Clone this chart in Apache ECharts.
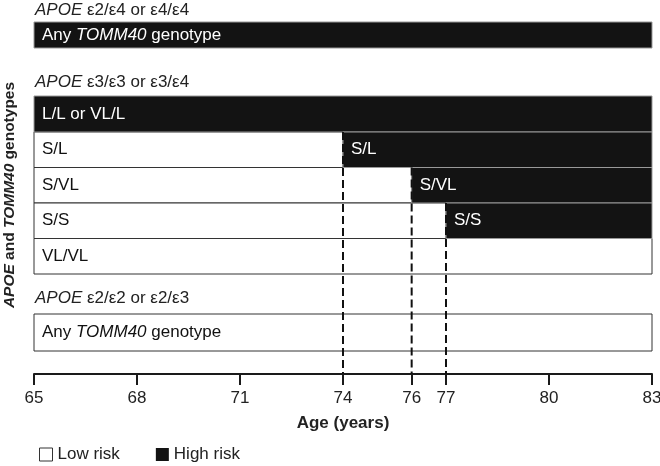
<!DOCTYPE html>
<html><head><meta charset="utf-8">
<script src="https://cdn.jsdelivr.net/npm/echarts@6/dist/echarts.min.js"></script>
<style>html,body{margin:0;padding:0;background:#fff}#c{width:660px;height:466px}</style>
</head><body><div id="c"></div>
<script>
// ---- data ----
const groupHeaders = ['APOE ε2/ε4 or ε4/ε4', 'APOE ε3/ε3 or ε3/ε4', 'APOE ε2/ε2 or ε2/ε3'];
const rowLabels = ['Any TOMM40 genotype', 'L/L or VL/L', 'S/L', 'S/VL', 'S/S', 'VL/VL', 'Any TOMM40 genotype'];
const highRiskFrom = [65, 65, 74, 76, 77, null, null]; // age from which risk is high (null = never)
const ageMin = 65, ageMax = 83;
const ageTicks = [65, 68, 71, 74, 76, 77, 80, 83];
const legendNames = ['Low risk', 'High risk'];

// ---- layout (vertical layout units of the hidden y axis, top-down) ----
const PLOT_H = 374;
const rowBox = [[22,48],[96,132],[132,167.5],[167.5,203],[203,238.5],[238.5,274],[314,351]];
const headerY = [10, 82, 298];

const FONT = '"Liberation Sans", Arial, Helvetica, sans-serif';
const FS = 17;
const BLACK = '#131313';
function richText(t){ return t.replace(/(APOE|TOMM40)/g, '{i|$1}'); }
function textEl(x, y, t, color){
  return {type:'text', style:{x:x, y:y, text:richText(t), fill:color, fontSize:FS, fontFamily:FONT,
    align:'left', verticalAlign:'middle',
    rich:{i:{fontStyle:'italic', fontSize:FS, fontFamily:FONT, fill:color}}}};
}

const lowData = [], highData = [];
rowLabels.forEach((lab, i) => {
  const h = highRiskFrom[i];
  if (h === null) lowData.push([ageMin, ageMax, i]);
  else {
    if (h > ageMin) lowData.push([ageMin, h, i]);
    highData.push([h, ageMax, i]);
  }
});
const thresholdData = [];
highRiskFrom.forEach((h, i) => { if (h !== null && h > ageMin && h < ageMax) thresholdData.push([h, i]); });

function segRender(fill, stroke, txt){
  return function(params, api){
    const s = api.value(0), e = api.value(1), r = api.value(2);
    const p0 = api.coord([s, rowBox[r][0]]);
    const p1 = api.coord([e, rowBox[r][1]]);
    return {type:'group', children:[
      {type:'rect', shape:{x:p0[0], y:p0[1], width:p1[0]-p0[0], height:p1[1]-p0[1]},
       style:{fill:fill, stroke:stroke, lineWidth:1}},
      textEl(p0[0]+8, (p0[1]+p1[1])/2, rowLabels[r], txt)
    ]};
  };
}

const chart = echarts.init(document.getElementById('c'), null, {renderer:'canvas'});
chart.setOption({
  animation:false,
  backgroundColor:'#fff',
  textStyle:{fontFamily:FONT},
  grid:{left:34, right:8, top:0, height:PLOT_H, containLabel:false, outerBoundsMode:'none'},
  legend:{left:34, top:441, itemWidth:13, itemHeight:13, itemGap:36,
    textStyle:{fontSize:FS, color:'#222', fontFamily:FONT},
    data:[{name:legendNames[0], icon:'rect', itemStyle:{color:'#fff', borderColor:'#333', borderWidth:1}},
          {name:legendNames[1], icon:'rect', itemStyle:{color:BLACK}}]},
  xAxis:{type:'value', min:ageMin, max:ageMax, position:'bottom',
    name:'Age (years)', nameLocation:'middle', nameGap:41,
    nameTextStyle:{fontSize:FS, fontWeight:'bold', color:'#222', fontFamily:FONT},
    axisLine:{onZero:false, lineStyle:{color:'#1a1a1a', width:2}},
    axisTick:{customValues:ageTicks, length:11, lineStyle:{color:'#1a1a1a', width:2}},
    axisLabel:{customValues:ageTicks, fontSize:FS, color:'#222', margin:16, fontFamily:FONT},
    splitLine:{show:false}},
  yAxis:{type:'value', min:0, max:PLOT_H, inverse:true,
    name:'{bi|APOE}{b| and }{bi|TOMM40}{b| genotypes}', nameLocation:'middle', nameGap:16, nameRotate:90,
    nameTextStyle:{padding:[0,16,0,0],
      rich:{b:{fontSize:15.5, fontWeight:'bold', color:'#222', fontFamily:FONT},
            bi:{fontSize:15.5, fontWeight:'bold', fontStyle:'italic', color:'#222', fontFamily:FONT}}},
    axisLine:{show:false}, axisTick:{show:false}, axisLabel:{show:false}, splitLine:{show:false}},
  series:[
    {name:legendNames[0], type:'custom', z:2, itemStyle:{color:'#fff', borderColor:'#333'},
     renderItem:segRender('#fff', '#333', '#111'), data:lowData},
    {name:legendNames[1], type:'custom', z:2, itemStyle:{color:BLACK},
     renderItem:segRender(BLACK, '#999', '#fff'), data:highData},
    {name:'thresholds', type:'custom', z:3,
     renderItem:function(params, api){
       const h = api.value(0), r = api.value(1);
       const a = api.coord([h, rowBox[r][0]]), b = api.coord([h, PLOT_H]);
       return {type:'line', shape:{x1:a[0], y1:a[1], x2:b[0], y2:b[1]},
         style:{stroke:'#111', lineWidth:2, lineDash:[8,4]}};
     }, data:thresholdData},
    {name:'headers', type:'custom', z:3,
     renderItem:function(params, api){
       const g = api.value(1);
       const p = api.coord([api.value(0), headerY[g]]);
       return textEl(p[0]+1, p[1], groupHeaders[g], '#222');
     }, data:groupHeaders.map((_, g) => [ageMin, g])}
  ]
});
</script></body></html>
